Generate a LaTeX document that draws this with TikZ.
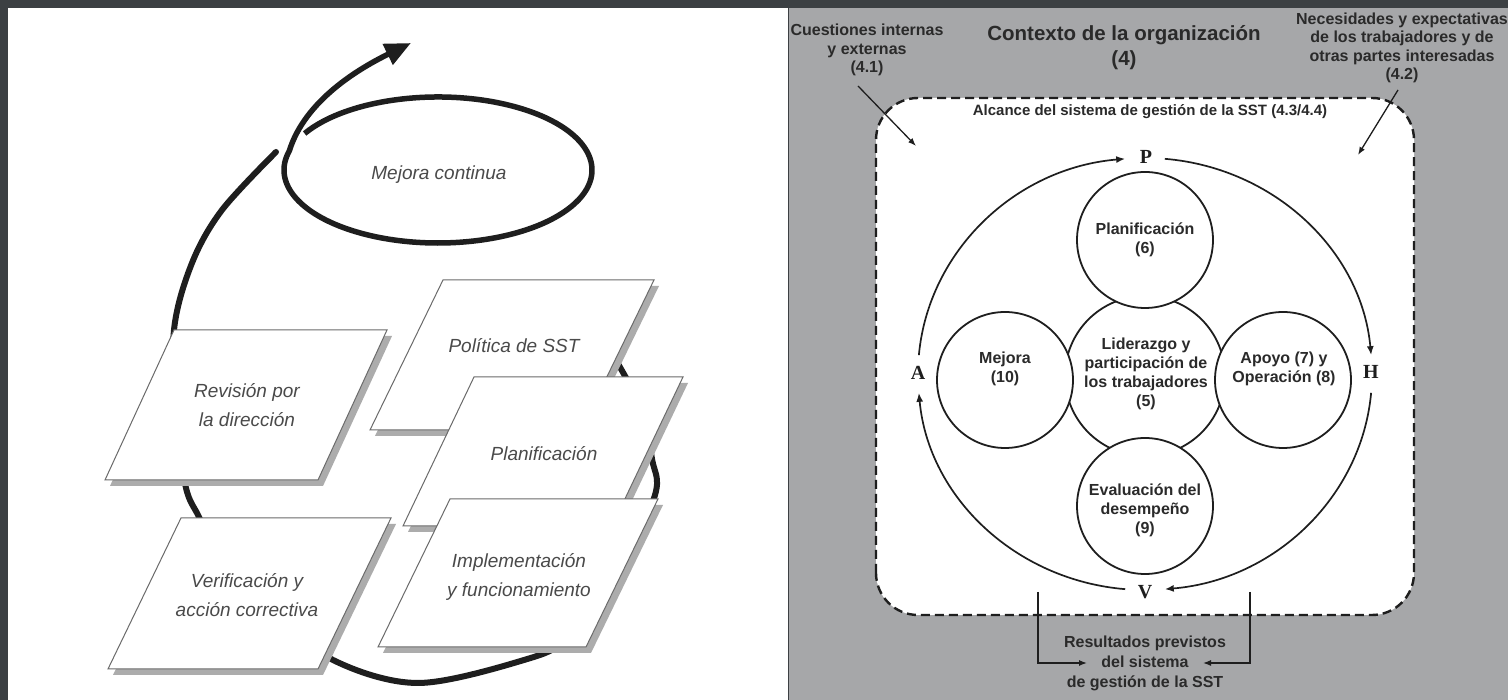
\documentclass[tikz,border=0pt]{standalone}
\usepackage{fontspec}
\setmainfont{Liberation Sans}
\newfontfamily\pahvfont{Liberation Serif}
\usetikzlibrary{arrows.meta}
\definecolor{framecol}{HTML}{3C4043}
\definecolor{panelgray}{HTML}{A6A7A9}
\definecolor{boxtextcol}{HTML}{4A4A4A}
\definecolor{inkcol}{HTML}{1E1E1E}
\definecolor{rtextcol}{HTML}{2A2A2A}
\definecolor{shadowcol}{HTML}{ACACAC}
\definecolor{boxedge}{HTML}{6A6A6A}
% parallelogram with drop shadow: x0, y0, width, height, slant
\newcommand\sstbox[5]{%
  \fill[shadowcol,shift={(5,-6)}] (#1,#2) -- ++(#3,0) -- ++(#5,#4) -- ++(-#3,0) -- cycle;
  \draw[boxedge,line width=1pt,fill=white] (#1,#2) -- ++(#3,0) -- ++(#5,#4) -- ++(-#3,0) -- cycle;}
\begin{document}
\begin{tikzpicture}[x=1pt,y=1pt,
  boxtext/.style={text=boxtextcol,font=\fontsize{19}{29}\selectfont\itshape,align=center},
  loopline/.style={line width=6pt,draw=inkcol,line cap=round},
  rtext/.style={text=rtextcol,font=\fontsize{16}{18.5}\selectfont\bfseries,align=center},
  ctext/.style={text=rtextcol,font=\fontsize{16}{19}\selectfont\bfseries,align=center},
  circ/.style={circle,draw=inkcol,line width=1.8pt,fill=white,inner sep=0pt},
  cyc/.style={draw=inkcol,line width=1.7pt,-{Latex[length=9pt,width=7pt]}},
  pahv/.style={font=\fontsize{20}{20}\selectfont\pahvfont\bfseries,text=inkcol},
  thinarrow/.style={draw=inkcol,line width=1.3pt,-{Latex[length=8pt,width=6pt]}},
]
\useasboundingbox (0,0) rectangle (1508,700);
\fill[framecol] (0,0) rectangle (1508,700);
\fill[white] (8,0) rectangle (788,692);
\fill[panelgray] (789,0) rectangle (1508,692);

% ---------------- left panel ----------------
% big loop (behind the boxes)
\draw[loopline] plot[smooth,tension=0.55] coordinates {(598,370) (640,295) (652,241) (655,205) (618,125) (568,62) (524,40) (418,17) (333,40) (270,90) (220,140) (199,183) (186,212) (176,280) (174,370) (192,437) (222,490) (276,548)};
% spiral "mejora continua" + outgoing arrow
\draw[line width=5.5pt,draw=inkcol,-{Triangle[length=26pt,width=22pt]}]
  (438,530) ++(150:154 and 73) arc[start angle=150,end angle=-195,x radius=154,y radius=73]
  .. controls (305,600) and (360,632) .. (411,657);
\node[boxtext] (mejcont) at (439,525) {Mejora continua};

\sstbox{105}{220}{213}{150}{69}
\node[boxtext] (rev) at (247,295) {Revisión por\\la dirección};
\sstbox{370}{270}{211}{150}{73}
\node[boxtext] (pol) at (514,354) {Política de SST};
\sstbox{403}{174}{209}{149}{71}
\node[boxtext] (plan) at (544,246) {Planificación};
\sstbox{378}{53}{208}{148}{72}
\node[boxtext] (impl) at (519,123) {Implementación\\y funcionamiento};
\sstbox{108}{31}{210}{151}{73}
\node[boxtext] (verif) at (247,105) {Verificación y\\acción correctiva};

% ---------------- right panel ----------------
\node[rtext,font=\fontsize{20.5}{25}\selectfont\bfseries] (ctx) at (1124,652) {Contexto de la organización\\(4)};
\node[rtext] (cuest) at (867,650) {Cuestiones internas\\y externas\\(4.1)};
\node[rtext] (neces) at (1402,652) {Necesidades y expectativas\\de los trabajadores y de\\otras partes interesadas\\(4.2)};

\draw[draw=inkcol,line width=2.4pt,dash pattern=on 9pt off 5pt,rounded corners=42pt,fill=white]
  (876,85) rectangle (1414,602);
\node[rtext,font=\fontsize{15}{18}\selectfont\bfseries] (alc) at (1150,588) {Alcance del sistema de gestión de la SST (4.3/4.4)};

\coordinate (q1s) at (858,614); \coordinate (q1e) at (916,554);
\coordinate (q2s) at (1398,610); \coordinate (q2e) at (1358,545);
\draw[thinarrow] (q1s) -- (q1e);
\draw[thinarrow] (q2s) -- (q2e);

% PHVA cycle
\node[pahv] (P) at (1146,543) {P};
\node[pahv] (H) at (1371,328) {H};
\node[pahv] (V) at (1145,108) {V};
\node[pahv] (A) at (918,327) {A};
\draw[cyc,shift={(1145,326)}] (175:227 and 216) arc[start angle=175,end angle=95,x radius=227,y radius=216];
\draw[cyc,shift={(1145,326)}] (85:227 and 216) arc[start angle=85,end angle=5,x radius=227,y radius=216];
\draw[cyc,shift={(1145,326)}] (-5:227 and 216) arc[start angle=-5,end angle=-85,x radius=227,y radius=216];
\draw[cyc,shift={(1145,326)}] (-95:227 and 216) arc[start angle=-95,end angle=-175,x radius=227,y radius=216];

% circles
\node[circ,minimum size=160pt] (lid) at (1145,324) {};
\node[circ,minimum size=136pt] (cplan) at (1145,460) {};
\node[circ,minimum size=136pt] (cmej) at (1005,320) {};
\node[circ,minimum size=136pt] (capo) at (1283,320) {};
\node[circ,minimum size=136pt] (ceval) at (1145,194) {};
\node[ctext] (tlid) at (1146,326) {Liderazgo y\\participación de\\los trabajadores\\(5)};
\node[ctext] (tplan) at (1145,460) {Planificación\\(6)};
\node[ctext] (tmej) at (1005,331) {Mejora\\(10)};
\node[ctext] (tapo) at (1284,331) {Apoyo (7) y\\Operación (8)};
\node[ctext] (teval) at (1145,190) {Evaluación del\\desempeño\\(9)};

% results
\node[rtext,font=\fontsize{16}{20}\selectfont\bfseries] (res) at (1145,37) {Resultados previstos\\del sistema\\de gestión de la SST};
\coordinate (bl1) at (1038,108); \coordinate (bl2) at (1038,37); \coordinate (bl3) at (1087,37);
\coordinate (br1) at (1250,108); \coordinate (br2) at (1250,37); \coordinate (br3) at (1203,37);
\draw[thinarrow] (bl1) -- (bl2) -- (bl3);
\draw[thinarrow] (br1) -- (br2) -- (br3);
\end{tikzpicture}
\end{document}
